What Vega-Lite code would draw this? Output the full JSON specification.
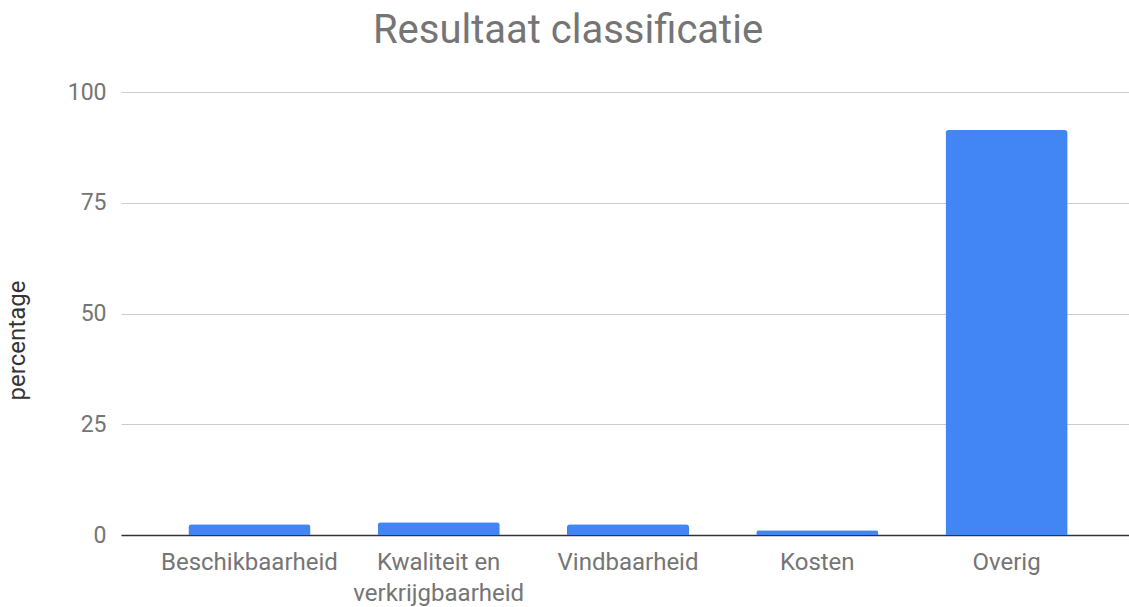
{
  "$schema": "https://vega.github.io/schema/vega-lite/v6.json",
  "autosize": {"type": "none"},
  "padding": {"left": 121, "top": 92, "right": 0, "bottom": 72},
  "width": 1014,
  "height": 443,
  "background": "white",
  "title": {
    "text": "Resultaat classificatie",
    "font": "Roboto",
    "fontSize": 40,
    "fontWeight": "normal",
    "color": "#757575",
    "anchor": "middle",
    "frame": "group",
    "dx": -60,
    "offset": 30
  },
  "data": {
    "values": [
      {"categorie": "Beschikbaarheid", "percentage": 2.4},
      {"categorie": "Kwaliteit en verkrijgbaarheid", "percentage": 2.9},
      {"categorie": "Vindbaarheid", "percentage": 2.4},
      {"categorie": "Kosten", "percentage": 1.05},
      {"categorie": "Overig", "percentage": 91.4}
    ]
  },
  "mark": {"type": "bar", "color": "#4285F4", "cornerRadiusTopLeft": 3, "cornerRadiusTopRight": 3},
  "encoding": {
    "x": {
      "field": "categorie",
      "type": "nominal",
      "sort": null,
      "scale": {"paddingInner": 0.355, "paddingOuter": 0.356},
      "axis": {
        "title": null,
        "labelAngle": 0,
        "labelFont": "Roboto",
        "labelFontSize": 24,
        "labelColor": "#757575",
        "labelPadding": 15,
        "labelLineHeight": 31,
        "labelExpr": "datum.label == 'Kwaliteit en verkrijgbaarheid' ? ['Kwaliteit en', 'verkrijgbaarheid'] : datum.label",
        "ticks": false,
        "domainColor": "#333333",
        "domainWidth": 1.5,
        "grid": false
      }
    },
    "y": {
      "field": "percentage",
      "type": "quantitative",
      "scale": {"domain": [0, 100]},
      "axis": {
        "title": "percentage",
        "titleFont": "Roboto",
        "titleFontSize": 24,
        "titleFontWeight": "normal",
        "titleColor": "#333333",
        "titlePadding": 38,
        "titleY": 248,
        "titleAlign": "center",
        "values": [0, 25, 50, 75, 100],
        "labelFont": "Roboto",
        "labelFontSize": 23,
        "labelColor": "#757575",
        "labelPadding": 15,
        "ticks": false,
        "domain": false,
        "gridColor": "#cccccc",
        "gridWidth": 1.2
      }
    }
  },
  "config": {"view": {"stroke": null}}
}
